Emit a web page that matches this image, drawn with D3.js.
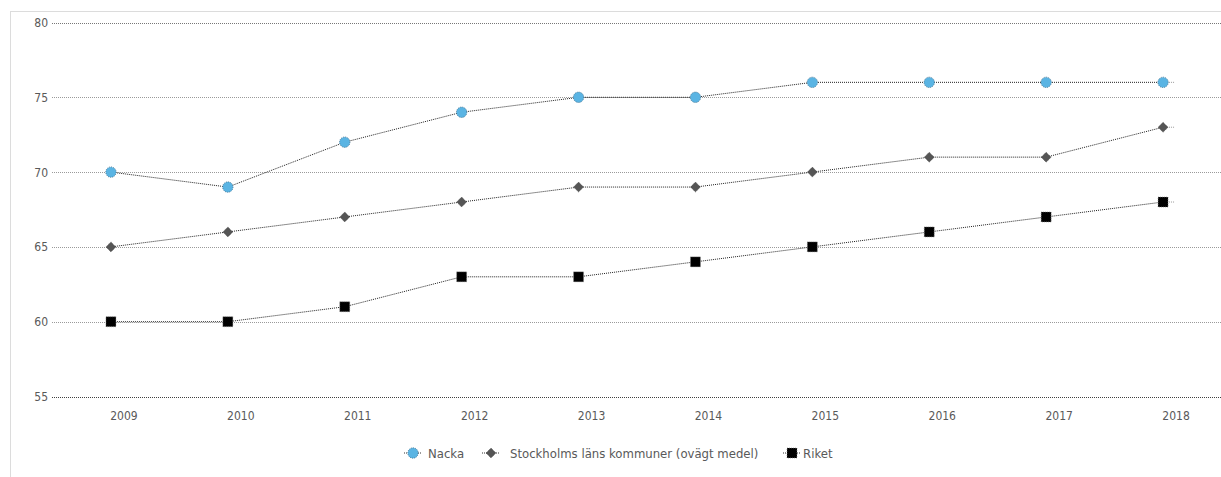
<!DOCTYPE html>
<html><head><meta charset="utf-8">
<script src="https://cdn.jsdelivr.net/npm/d3@7"></script>
<style>
html,body{margin:0;padding:0;background:#fff;}
svg{display:block;}
text{font-family:"DejaVu Sans Condensed","DejaVu Sans",sans-serif;fill:#595959;}
</style></head>
<body>
<svg id="chart" width="1221" height="477"></svg>
<script>
const years = ["2009","2010","2011","2012","2013","2014","2015","2016","2017","2018"];
const nacka = [70,69,72,74,75,75,76,76,76,76];
const stockholm = [65,66,67,68,69,69,70,71,71,73];
const riket = [60,60,61,63,63,64,65,66,67,68];
const yTicks = [55,60,65,70,75,80];
const seriesNames = ["Nacka","Stockholms läns kommuner (ovägt medel)","Riket"];

const svg = d3.select("#chart");
const W = 1221, H = 477;

// outer dotted frame
svg.append("rect").attr("x",10.5).attr("y",11.5).attr("width",1300).attr("height",600)
  .attr("fill","none").attr("stroke","#b8b8b8").attr("stroke-width",1).attr("stroke-dasharray","1,1");

const x = d3.scaleBand().domain(years).range([52.5,1221.5]);
const y = d3.scaleLinear().domain([55,80]).range([396.5,22.5]);
const cx = d => x(d) + x.bandwidth()/2;

// gridlines
svg.append("g").selectAll("line").data(yTicks).join("line")
  .attr("x1",52).attr("x2",W)
  .attr("y1",d=>Math.round(y(d))+0.5).attr("y2",d=>Math.round(y(d))+0.5)
  .attr("stroke",d=>d===55?"#404040":(d===80?"#777":"#9a9a9a")).attr("stroke-width",1)
  .attr("stroke-dasharray","1,1");

// y labels
svg.append("g").selectAll("text").data(yTicks).join("text")
  .attr("x",48).attr("y",d=>y(d)+4.5).attr("text-anchor","end")
  .attr("font-size",12).text(d=>d);

// x labels
svg.append("g").selectAll("text").data(years).join("text")
  .attr("x",d=>cx(d)+13).attr("y",420).attr("text-anchor","middle")
  .attr("font-size",12).text(d=>d);

const line = d3.line().x((d,i)=>cx(years[i])).y(d=>y(d));

const series = [
  {name:seriesNames[0], values:nacka, shape:"circle", fill:"#5ab4e3"},
  {name:seriesNames[1], values:stockholm, shape:"diamond", fill:"#555555"},
  {name:seriesNames[2], values:riket, shape:"square", fill:"#000000"}
];

function marker(g, s, px, py){
  if(s.shape==="circle"){
    g.append("circle").attr("cx",px).attr("cy",py).attr("r",5.2)
      .attr("fill",s.fill).attr("stroke","#3a6a88").attr("stroke-width",0.8).attr("stroke-dasharray","1,1");
  } else if(s.shape==="diamond"){
    const r=5;
    g.append("path").attr("d",`M${px},${py-r}L${px+r},${py}L${px},${py+r}L${px-r},${py}Z`)
      .attr("fill",s.fill).attr("stroke","#444").attr("stroke-width",0.6).attr("stroke-dasharray","1,1");
  } else {
    const r=5;
    g.append("rect").attr("x",px-r).attr("y",py-r).attr("width",2*r).attr("height",2*r)
      .attr("fill",s.fill).attr("stroke","#888").attr("stroke-width",0.6).attr("stroke-dasharray","1,1");
  }
}

series.forEach(s=>{
  const g = svg.append("g");
  g.append("path").attr("d",line(s.values)).attr("fill","none")
    .attr("stroke","#222").attr("stroke-width",1).attr("stroke-dasharray","1,1");
  const last = s.values[s.values.length-1];
  g.append("line").attr("x1",cx(years[years.length-1])).attr("x2",cx(years[years.length-1])+11)
    .attr("y1",y(last)).attr("y2",y(last)).attr("stroke","#999").attr("stroke-width",1).attr("stroke-dasharray","1,1");
  s.values.forEach((v,i)=>marker(g,s,cx(years[i]),y(v)));
});

// legend
const legendY = 453;
const legendItems = [
  {s:series[0], mx:413, tx:428},
  {s:series[1], mx:491, tx:510},
  {s:series[2], mx:792, tx:803}
];
legendItems.forEach(it=>{
  const g = svg.append("g");
  g.append("line").attr("x1",it.mx-9).attr("x2",it.mx+9).attr("y1",legendY).attr("y2",legendY)
    .attr("stroke","#333").attr("stroke-width",1).attr("stroke-dasharray","1,1");
  marker(g,it.s,it.mx,legendY);
  g.append("text").attr("x",it.tx).attr("y",legendY+5).attr("font-size",13)
    .text(it.s.name);
});
</script>
</body></html>
